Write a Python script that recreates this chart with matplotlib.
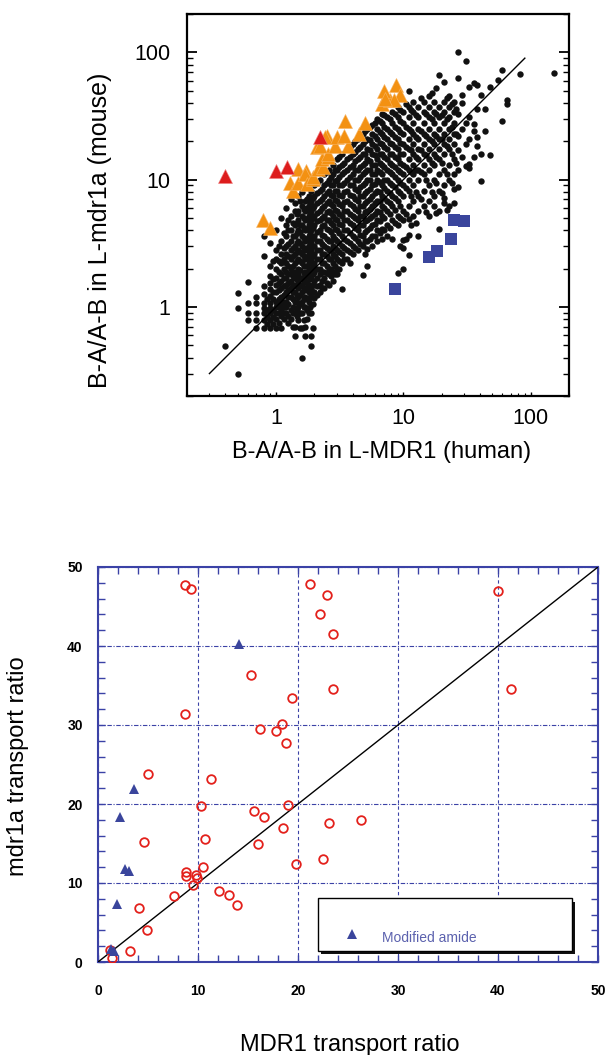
import matplotlib
matplotlib.use('Agg')
import matplotlib.pyplot as plt
from matplotlib.ticker import MultipleLocator, LogLocator, NullFormatter
from matplotlib.patches import Rectangle

# ---- top panel: B-A/A-B ratios, log-log ----
# black dots, read column by column: (x, [y values])
dot_columns = [
    (0.4, [0.49]),
    (0.5, [0.30, 0.99, 1.28]),
    (0.6, [0.79, 0.89, 1.08, 1.58]),
    (0.7, [0.69, 0.79, 0.89, 1.08, 1.2]),
    (0.8, [0.69, 0.79, 0.89, 0.99, 1.08, 1.26, 1.46, 2.5, 3.6]),
    (0.9, [0.69, 0.79, 0.89, 0.99, 1.08, 1.22, 1.38, 1.55, 1.75, 2.1, 3.2]),
    (1.0, [0.69, 0.8, 0.9, 1.0, 1.1, 1.3, 1.5, 1.7, 2.0, 2.4, 2.8, 4.0]),
    (1.1, [0.69, 0.85, 0.95, 1.05, 1.2, 1.4, 1.6, 1.8, 2.2, 2.6, 3.3, 5.0]),
    (1.2, [0.9, 1.0, 1.1, 1.3, 1.5, 1.7, 1.9, 2.2, 2.6, 3.0, 3.6, 4.4, 6.0]),
    (1.3, [0.8, 0.95, 1.2, 1.4, 1.6, 1.8, 2.0, 2.4, 2.8, 3.3, 4.0, 5.2, 7.0]),
    (1.4, [0.59, 0.7, 0.9, 1.1, 1.3, 1.5, 1.7, 1.9, 2.2, 2.6, 3.0, 3.6, 4.4, 5.7, 6.6]),
    (1.5, [0.79, 1.0, 1.2, 1.4, 1.6, 1.8, 2.0, 2.4, 2.8, 3.3, 4.0, 4.8, 5.7, 7.5]),
    (1.6, [0.4, 0.69, 0.9, 1.1, 1.3, 1.5, 1.7, 2.2, 2.6, 3.0, 3.6, 4.4, 5.2, 6.2, 8.0]),
    (1.7, [0.59, 0.7, 1.0, 1.2, 1.4, 1.6, 1.9, 2.4, 2.8, 3.3, 4.0, 4.8, 5.7, 6.8]),
    (1.8, [0.89, 1.1, 1.3, 1.5, 1.8, 2.0, 2.2, 2.6, 3.0, 3.6, 4.4, 5.2, 6.2, 7.5]),
    (1.9, [0.49, 0.59, 0.9, 1.2, 1.4, 1.7, 2.0, 2.4, 2.8, 3.3, 4.0, 4.8, 5.7, 6.8, 8.2]),
    (2.0, [1.18, 1.3, 1.6, 1.9, 2.2, 2.6, 3.0, 3.6, 4.4, 5.2, 6.2, 7.5, 9.0]),
    (2.2, [1.3, 1.5, 1.8, 2.0, 2.4, 2.8, 3.3, 4.0, 4.8, 5.7, 6.8, 8.2, 10]),
    (2.4, [1.4, 1.7, 1.9, 2.2, 2.6, 3.0, 3.6, 4.4, 5.2, 6.2, 7.5, 9.0, 11]),
    (2.6, [1.5, 1.8, 2.0, 2.4, 2.8, 3.3, 4.0, 4.8, 5.7, 6.8, 8.2, 10, 12]),
    (2.8, [1.6, 1.9, 2.2, 2.6, 3.0, 3.6, 4.4, 5.2, 6.2, 7.5, 9.0, 11, 13]),
    (3.0, [1.8, 2.0, 2.4, 2.8, 3.3, 4.0, 4.8, 5.7, 6.8, 8.2, 10, 12, 14.5]),
    (3.3, [1.38, 2.2, 2.6, 3.0, 3.6, 4.4, 5.2, 6.2, 7.5, 9.0, 11, 13, 16]),
    (3.6, [2.4, 2.8, 3.3, 4.0, 4.8, 5.7, 6.8, 8.2, 10, 12, 14.5, 17.5]),
    (4.0, [2.6, 3.0, 3.6, 4.4, 5.2, 6.2, 7.5, 9.0, 11, 13, 16, 19]),
    (4.4, [2.8, 3.3, 4.0, 4.8, 5.7, 6.8, 8.2, 10, 12, 14.5, 17.5, 21]),
    (4.8, [1.78, 3.0, 3.6, 4.4, 5.2, 6.2, 7.5, 9.0, 11, 13, 16, 19, 23]),
    (5.2, [2.1, 2.85, 3.3, 4.0, 4.8, 5.7, 6.8, 8.2, 10, 12, 14.5, 17.5, 21, 25]),
    (5.7, [3.0, 3.6, 4.4, 5.2, 6.2, 7.5, 9.0, 11, 13, 16, 19, 23, 27]),
    (6.2, [3.3, 4.0, 4.8, 5.7, 6.8, 8.2, 10, 12, 14.5, 17.5, 21, 25, 30]),
    (6.8, [3.4, 4.1, 5.2, 6.2, 7.5, 9.0, 11, 13, 16, 19, 23, 28, 33]),
    (7.5, [3.6, 4.4, 5.7, 6.8, 8.2, 10, 12, 14.5, 17.5, 21, 25, 31]),
    (8.2, [3.45, 4.8, 6.2, 7.5, 9.0, 11, 13, 16, 19, 23, 28, 34]),
    (9.0, [1.86, 4.4, 5.2, 6.8, 8.2, 10, 12, 14.5, 17.5, 21, 25, 31, 37]),
    (10, [1.98, 2.9, 3.35, 4.8, 5.7, 7.5, 9.0, 11, 13, 16, 19, 23, 28, 34]),
    (11, [2.55, 3.7, 4.9, 6.2, 8.2, 10, 12, 14.5, 17.5, 21, 25, 31, 37, 50]),
    (12, [5.2, 6.8, 9.0, 11, 13, 16, 19, 23, 28, 34, 41]),
    (13, [3.6, 5.7, 7.5, 10, 12, 14.5, 17.5, 21, 25, 31, 37]),
    (14.5, [6.2, 8.2, 11, 13, 16, 19, 23, 28, 34, 41]),
    (16, [5.2, 6.8, 9.0, 12, 14.5, 17.5, 21, 25, 31, 37, 45]),
    (17.5, [6.2, 7.5, 10, 13, 16, 19, 23, 28, 34, 41]),
    (19, [4.1, 5.7, 8.2, 11, 14.5, 17.5, 21, 25, 31, 37, 66]),
    (21, [6.6, 7.2, 9.0, 12, 16, 19, 23, 28, 34, 41, 58]),
    (23, [6.2, 10, 13, 17.5, 21, 25, 31, 37, 45]),
    (25, [6.6, 8.5, 11, 14.5, 19, 23, 28, 34, 41]),
    (27, [8.7, 12, 17, 22, 33, 63, 100]),
    (29, [15, 25, 40, 46]),
    (31, [12.9, 19, 28, 86]),
    (33, [12.4, 13.3, 21, 31, 53]),
    (36, [15, 24.3, 27.4, 57]),
    (38, [18.5, 21.5, 36, 55]),
    (41, [9.8, 15.9, 46]),
    (44, [24.3, 36]),
    (48, [15.7, 53]),
    (55, [61]),
    (60, [29, 73]),
    (65, [39.5, 42]),
    (82, [68]),
    (153, [69]),
]

# second pass of dots, read between the columns above
dot_columns_b = [
    (0.85, [0.74, 0.84, 0.94, 1.15]),
    (0.95, [0.74, 0.84, 0.94, 1.15, 1.3, 1.65, 2.3]),
    (1.05, [0.75, 0.9, 1.0, 1.15, 1.35, 1.55, 1.9, 2.3, 3.0]),
    (1.15, [0.8, 0.9, 1.0, 1.1, 1.25, 1.45, 1.7, 2.0, 2.4, 2.9, 3.8]),
    (1.25, [0.75, 0.85, 1.05, 1.2, 1.35, 1.55, 1.8, 2.1, 2.5, 3.1, 4.0, 4.8]),
    (1.35, [0.7, 0.9, 1.0, 1.15, 1.3, 1.5, 1.75, 2.1, 2.5, 2.9, 3.6, 4.6]),
    (1.45, [0.85, 0.95, 1.1, 1.25, 1.45, 1.65, 1.9, 2.3, 2.7, 3.2, 3.8, 4.6, 5.4]),
    (1.55, [0.69, 0.9, 1.05, 1.25, 1.45, 1.7, 1.95, 2.3, 2.7, 3.2, 3.9, 4.4, 6.8]),
    (1.65, [0.79, 1.0, 1.15, 1.35, 1.6, 1.85, 2.1, 2.5, 2.9, 3.5, 4.2, 5.0, 5.9]),
    (1.75, [0.8, 0.95, 1.15, 1.35, 1.55, 1.75, 2.1, 2.45, 2.9, 3.4, 4.1, 4.9, 6.0, 7.0]),
    (1.85, [1.0, 1.2, 1.4, 1.65, 1.9, 2.3, 2.7, 3.2, 3.8, 4.6, 5.5, 6.5]),
    (1.95, [0.69, 1.05, 1.3, 1.5, 1.8, 2.1, 2.5, 3.0, 3.5, 4.2, 5.0, 6.0, 7.2]),
    (2.1, [1.25, 1.45, 1.7, 2.0, 2.4, 2.8, 3.3, 3.9, 4.7, 5.5, 6.6, 7.9, 9.5]),
    (2.3, [1.4, 1.6, 1.9, 2.2, 2.6, 3.1, 3.7, 4.3, 5.0, 6.0, 7.1, 8.5]),
    (2.5, [1.55, 1.85, 2.1, 2.5, 2.9, 3.4, 4.1, 4.8, 5.6, 6.6, 7.9, 9.5, 11.5]),
    (2.7, [1.75, 2.0, 2.4, 2.8, 3.3, 3.9, 4.6, 5.5, 6.4, 7.6, 9.0, 10.5]),
    (2.9, [1.8, 2.1, 2.5, 2.9, 3.4, 4.1, 4.9, 5.8, 6.9, 8.2, 9.8, 12]),
    (3.15, [2.0, 2.3, 2.7, 3.2, 3.8, 4.5, 5.4, 6.4, 7.6, 9.0, 10.5, 12.5, 15]),
    (3.45, [2.4, 2.9, 3.4, 4.0, 4.8, 5.7, 6.7, 8.0, 9.5, 11.5, 13.5]),
    (3.8, [2.2, 2.7, 3.2, 3.8, 4.6, 5.4, 6.4, 7.6, 9.0, 10.5, 12.5, 15, 18]),
    (4.2, [2.9, 3.5, 4.2, 5.0, 5.9, 7.0, 8.4, 10, 12, 14, 16.5, 20]),
    (4.6, [3.1, 3.7, 4.4, 5.2, 6.2, 7.4, 8.8, 10.5, 12.5, 15, 18]),
    (5.0, [2.6, 3.3, 3.9, 4.7, 5.6, 6.6, 7.8, 9.4, 11.5, 13.5, 16, 20, 24]),
    (5.45, [3.4, 4.2, 5.0, 5.9, 7.1, 8.5, 10, 12, 14, 17, 20.5, 26]),
    (5.95, [3.6, 4.5, 5.4, 6.5, 7.8, 9.3, 11, 13, 15.5, 18.5, 22, 28]),
    (6.5, [3.8, 4.7, 5.6, 6.8, 8.0, 9.6, 11.5, 13.5, 16, 19.5, 23.5, 29]),
    (7.1, [4.0, 5.0, 6.0, 7.2, 8.6, 10, 12.5, 15, 18, 21.5, 26, 32]),
    (7.9, [4.2, 5.4, 6.5, 7.8, 9.5, 11.5, 13.5, 16, 19.5, 23.5, 30]),
    (8.6, [4.6, 5.8, 7.2, 8.8, 10.5, 12.5, 15, 18, 21.5, 26, 33]),
    (9.5, [3.0, 5.0, 6.2, 7.8, 9.5, 11.5, 13.5, 16, 19.5, 23.5, 29, 35]),
    (10.5, [3.4, 5.4, 8.6, 12.5, 18, 26, 39]),
    (11.5, [4.4, 7.4, 11.5, 17, 24, 35]),
    (12.5, [4.6, 8.0, 12, 15, 21.5, 32]),
    (13.7, [7.0, 11.5, 17, 24, 44]),
    (15.2, [5.6, 10, 15.5, 22, 33]),
    (16.7, [8.0, 13.5, 20, 30, 48]),
    (18.2, [5.5, 9.5, 15, 22, 33, 52]),
    (20, [7.8, 13.5, 21, 32]),
    (22, [5.8, 11, 18.5, 30, 44]),
    (24, [9.4, 16, 26, 39]),
    (26, [13.5, 23, 36]),
]

orange_x = [0.79, 0.90, 1.29, 1.37, 1.5, 1.5, 1.72, 1.69, 1.74, 1.97, 1.97, 2.15,
            2.36, 2.29, 2.58, 2.58, 2.09, 2.22, 2.9, 3.7, 2.5, 2.43, 3.0, 3.39,
            4.45, 3.5, 5.0, 6.8, 7.9, 7.0, 8.8, 9.5, 8.4, 7.2]
orange_y = [4.8, 4.2, 9.5, 8.2, 9.5, 12.1, 11.8, 11.1, 9.2, 10.1, 10.4, 12.1,
            12.5, 14.5, 15.0, 15.9, 18.0, 18.5, 18.5, 18.5, 22.2, 21.5, 21.5, 22.2,
            22.9, 29.0, 28.0, 39.5, 42.0, 50.0, 55.0, 46.0, 42.0, 43.0]

red_x = [0.40, 1.0, 1.21, 2.2]
red_y = [10.7, 11.6, 12.5, 21.5]

square_x = [8.55, 15.8, 18.4, 23.7, 24.9, 29.9]
square_y = [1.38, 2.45, 2.76, 3.45, 4.84, 4.75]

# ---- bottom panel: transport ratios, linear ----
circle_x = [8.67, 9.29, 21.17, 22.9, 22.17, 23.5, 40.0, 15.3, 23.5, 41.3, 19.4,
            8.67, 18.4, 16.2, 17.8, 18.8, 5.0, 11.3, 10.3, 19.0, 15.55, 16.6,
            23.1, 26.3, 18.5, 4.6, 10.7, 16.0, 19.8, 22.5, 10.5, 8.8, 8.8, 9.8,
            9.9, 9.5, 12.1, 13.1, 13.85, 7.6, 4.1, 4.9, 3.2, 1.24, 1.43]
circle_y = [47.7, 47.2, 47.85, 46.5, 44.1, 41.5, 46.9, 36.3, 34.5, 34.6, 33.4,
            31.4, 30.1, 29.5, 29.25, 27.7, 23.8, 23.2, 19.7, 19.9, 19.1, 18.3,
            17.55, 18.0, 16.9, 15.2, 15.6, 14.9, 12.4, 13.05, 12.0, 11.4, 10.9, 11.0,
            10.65, 9.8, 9.05, 8.46, 7.24, 8.3, 6.8, 4.1, 1.35, 1.5, 0.5]

amide_x = [14.05, 3.64, 2.2, 2.67, 3.06, 1.93, 1.3, 1.6]
amide_y = [40.2, 21.9, 18.3, 11.8, 11.5, 7.4, 1.7, 1.4]

all_columns = dot_columns + dot_columns_b
dots_x = [x for x, ys in all_columns for _ in ys]
dots_y = [y for _, ys in all_columns for y in ys]

plt.rcParams['font.family'] = ['Liberation Sans', 'DejaVu Sans']

W, H = 605, 1055
fig = plt.figure(figsize=(W / 100, H / 100), dpi=100)

# top panel
ax1 = fig.add_axes([187 / W, 1 - 396 / H, 382 / W, 382 / H])
ax1.set_xscale('log')
ax1.set_yscale('log')
ax1.plot([0.3, 90], [0.3, 90], color='black', lw=1, zorder=3)
ax1.plot(dots_x, dots_y, 'o', color='#111111', ms=4.6, mew=0, zorder=2)
ax1.plot(orange_x, orange_y, '^', color='#f39112', ms=10, mew=0.4, mec='#f8b565', zorder=4)
ax1.plot(red_x, red_y, '^', color='#dd1d1d', ms=10, mew=0.4, mec='#f08080', zorder=4)
ax1.plot(square_x, square_y, 's', color='#3a459c', ms=9, mew=0, zorder=4)
ax1.set_xlim(0.2, 200)
ax1.set_ylim(0.2, 200)
for s in ax1.spines.values():
    s.set_linewidth(1.6)
ax1.set_xticks([1, 10, 100])
ax1.set_xticklabels(['1', '10', '100'])
ax1.set_yticks([1, 10, 100])
ax1.set_yticklabels(['1', '10', '100'])
ax1.xaxis.set_minor_locator(LogLocator(subs=range(2, 10)))
ax1.yaxis.set_minor_locator(LogLocator(subs=range(2, 10)))
ax1.xaxis.set_minor_formatter(NullFormatter())
ax1.yaxis.set_minor_formatter(NullFormatter())
ax1.tick_params(axis='y', which='major', direction='in', length=7, width=1.3,
                left=True, right=True, labelsize=15.5, pad=12)
ax1.tick_params(axis='y', which='minor', direction='in', length=4, width=1,
                left=True, right=True)
ax1.tick_params(axis='x', which='major', direction='in', length=3, width=1,
                top=False, labelsize=15.5, pad=9)
ax1.tick_params(axis='x', which='minor', direction='in', length=2, width=0.8, top=False)
fig.text(382 / W, 1 - 452 / H, 'B-A/A-B in L-MDR1 (human)', fontsize=17,
         ha='center', va='center')
fig.text(100 / W, 1 - 230 / H, 'B-A/A-B in L-mdr1a (mouse)', fontsize=18,
         ha='center', va='center', rotation=90)

# bottom panel
blue = '#3b42a6'
ax2 = fig.add_axes([98 / W, 1 - 962 / H, 500 / W, 395 / H])
ax2.set_xlim(0, 50)
ax2.set_ylim(0, 50)
ax2.xaxis.set_major_locator(MultipleLocator(10))
ax2.yaxis.set_major_locator(MultipleLocator(10))
ax2.xaxis.set_minor_locator(MultipleLocator(2))
ax2.yaxis.set_minor_locator(MultipleLocator(2))
ax2.xaxis.grid(True, color=blue, lw=0.8, ls=(0, (3, 2.5)))
ax2.yaxis.grid(True, color=blue, lw=0.8, ls=(0, (4, 1.5, 1, 1.5)))
ax2.set_axisbelow(True)
for s in ax2.spines.values():
    s.set_color(blue)
    s.set_linewidth(1.5)
ax2.tick_params(which='both', direction='in', length=5, width=1, color=blue,
                top=True, right=True)
ax2.tick_params(axis='x', labelsize=10, pad=16)
ax2.tick_params(axis='y', labelsize=10, pad=11)
for lab in ax2.get_xticklabels() + ax2.get_yticklabels():
    lab.set_fontweight('bold')
ax2.plot([0, 50], [0, 50], color='black', lw=1, zorder=3)
ax2.plot(circle_x, circle_y, 'o', mfc='none', mec='#e3201b', ms=6.2, mew=1.3, zorder=4)
ax2.plot(amide_x, amide_y, '^', color='#3a459c', ms=7.5, mew=0, zorder=4)

# legend box with drop shadow
ax2.add_patch(Rectangle((0.446, 0.019), 0.508, 0.134, transform=ax2.transAxes,
                        facecolor='#111111', edgecolor='none', zorder=5))
ax2.add_patch(Rectangle((0.44, 0.028), 0.508, 0.134, transform=ax2.transAxes,
                        facecolor='white', edgecolor='black', lw=1, zorder=6))
ax2.plot([0.508], [0.072], '^', color='#3a459c', ms=7.5, mew=0,
         transform=ax2.transAxes, zorder=7)
ax2.text(0.567, 0.062, 'Modified amide', color='#5c62ae', fontsize=10,
         transform=ax2.transAxes, va='center', ha='left', zorder=7)

fig.text(350 / W, 1 - 1045 / H, 'MDR1 transport ratio', fontsize=17,
         ha='center', va='center')
fig.text(18 / W, 1 - 766 / H, 'mdr1a transport ratio', fontsize=17,
         ha='center', va='center', rotation=90)

fig.savefig('out.png', dpi=100)
